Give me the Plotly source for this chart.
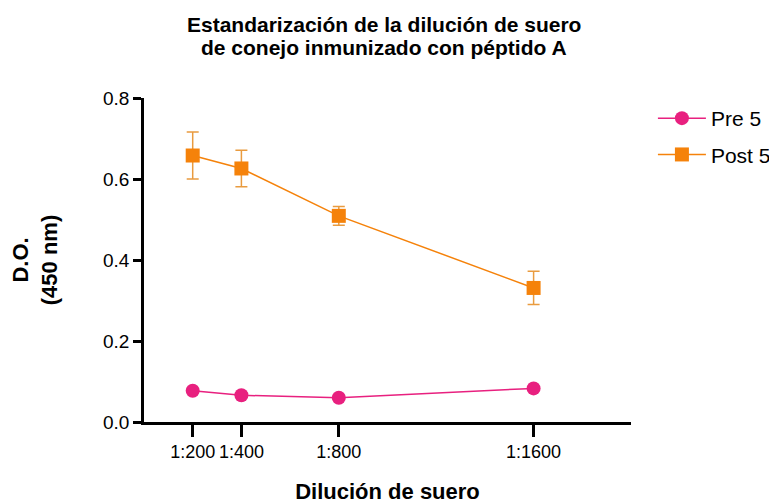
import plotly.graph_objects as go

dilutions = [200, 400, 800, 1600]
tick_labels = ["1:200", "1:400", "1:800", "1:1600"]
pre5 = [0.077, 0.066, 0.060, 0.083]
post5 = [0.658, 0.626, 0.509, 0.331]
post5_err = [0.058, 0.045, 0.023, 0.041]

PINK = "#E8207F"
ORANGE = "#F5820A"
ERR = "#E99B3F"
FONT = "Liberation Sans, Arial, sans-serif"

fig = go.Figure()
fig.add_trace(go.Scatter(
    x=dilutions, y=pre5, name="Pre 5", mode="lines+markers",
    line=dict(color=PINK, width=1.5),
    marker=dict(symbol="circle", size=14, color=PINK),
    legendgroup="a",
))
fig.add_trace(go.Scatter(
    x=dilutions, y=post5, name="Post 5", mode="lines+markers",
    line=dict(color=ORANGE, width=1.5),
    marker=dict(symbol="square", size=14, color=ORANGE),
    error_y=dict(type="data", array=post5_err, visible=True, color=ERR, thickness=1.5, width=6),
    legendgroup="b",
))

# The page has an 8px body margin, so the figure is offset by 8px
W, H = 769, 496
L, T = 136, 90
PW, PH = 487, 324
R, B = W - L - PW, H - T - PH

def py(fig_y):
    return (T + PH - fig_y) / PH

fig.add_annotation(text="<b>Estandarización de la dilución de suero</b>",
                   xref="paper", yref="paper", x=0.493, y=py(16),
                   xanchor="center", yanchor="middle", showarrow=False,
                   font=dict(size=21, family=FONT, color="black"))
fig.add_annotation(text="<b>de conejo inmunizado con péptido A</b>",
                   xref="paper", yref="paper", x=0.493, y=py(40),
                   xanchor="center", yanchor="middle", showarrow=False,
                   font=dict(size=21, family=FONT, color="black"))

fig.update_layout(
    width=W, height=H,
    margin=dict(l=L, r=R, t=T, b=B, pad=0, autoexpand=False),
    paper_bgcolor="white", plot_bgcolor="white",
    font=dict(family=FONT, color="black"),
    showlegend=True,
    legend=dict(x=1.045, xanchor="left", y=1.0, yanchor="top",
                font=dict(size=21, family=FONT), tracegroupgap=6,
                itemwidth=48),
    xaxis=dict(
        range=[0, 2000], tickmode="array", tickvals=dilutions, ticktext=tick_labels,
        showgrid=False, zeroline=False, showline=True, linecolor="black", linewidth=2.5,
        ticks="outside", ticklen=12, tickwidth=2.5, tickcolor="black", tickangle=0,
        tickfont=dict(size=18, family=FONT), automargin=False,
        title=dict(text="<b>Dilución de suero</b>", font=dict(size=22, family=FONT), standoff=27),
    ),
    yaxis=dict(
        range=[0, 0.8], tickmode="array", tickvals=[0, 0.2, 0.4, 0.6, 0.8],
        ticktext=["0.0", "0.2", "0.4", "0.6", "0.8"],
        showgrid=False, zeroline=False, showline=True, linecolor="black", linewidth=2.5,
        ticks="outside", ticklen=8, tickwidth=2.5, tickcolor="black",
        tickfont=dict(size=19, family=FONT), automargin=False,
        title=dict(text="<b>D.O.<br>(450 nm)</b>", font=dict(size=22, family=FONT), standoff=42),
    ),
)

fig.write_html("out.html")
